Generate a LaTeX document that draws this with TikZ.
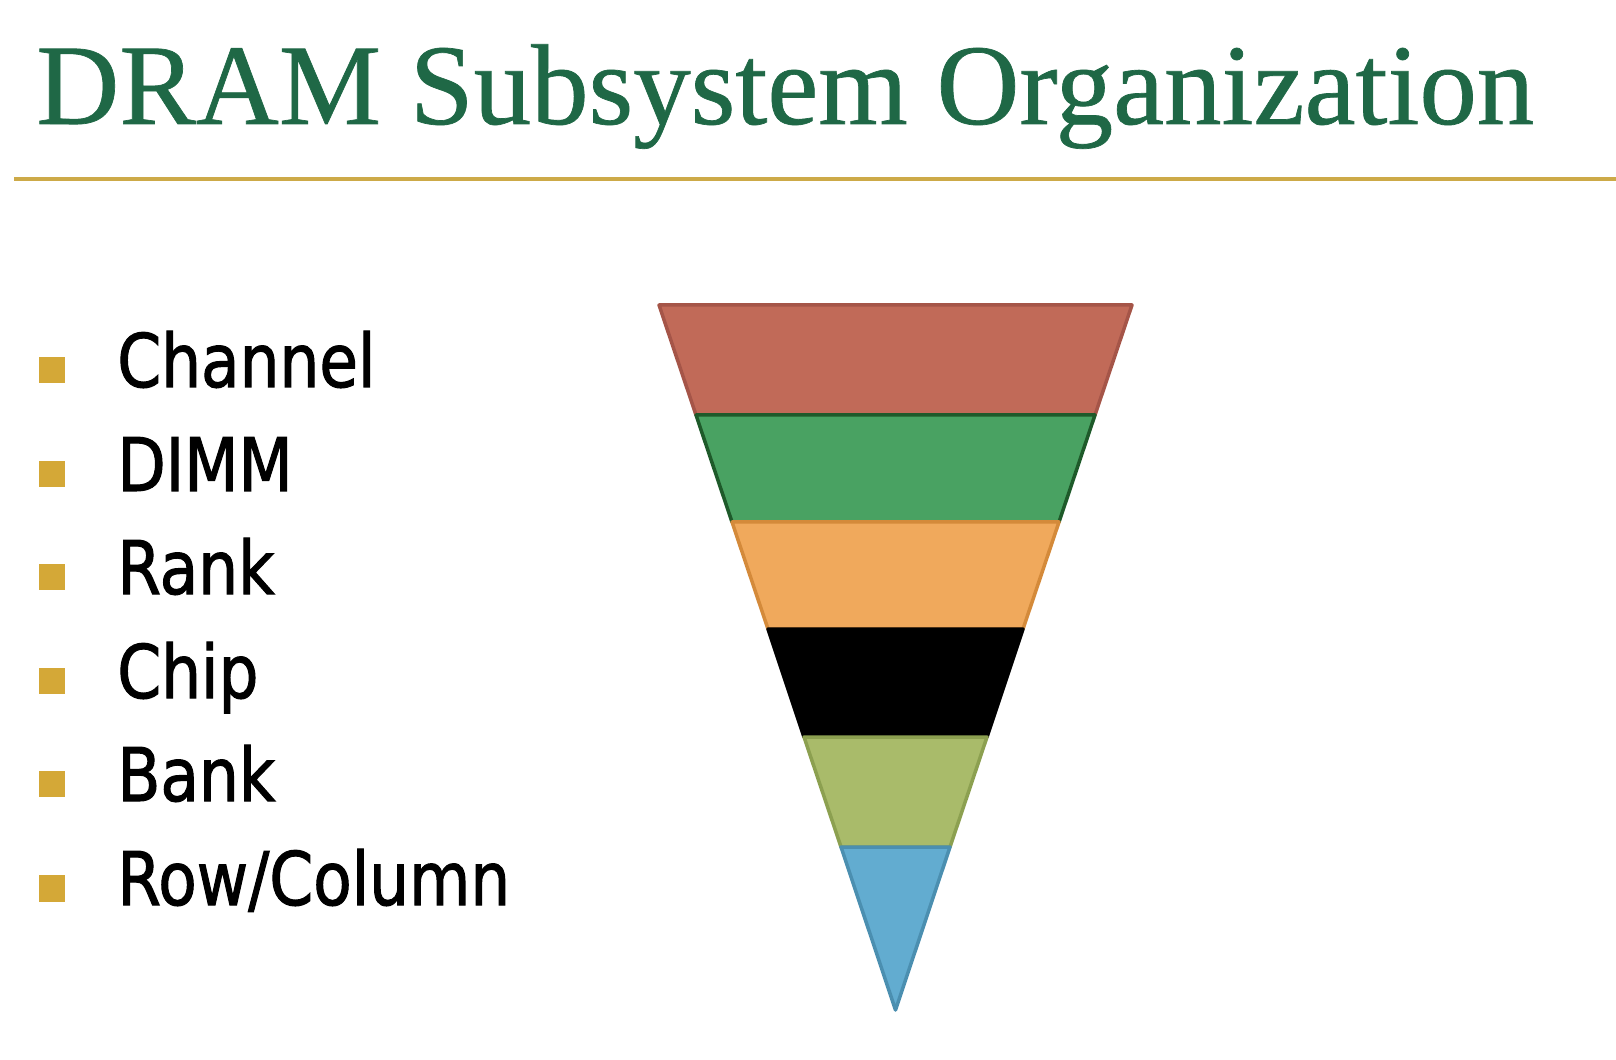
\documentclass[tikz,border=0pt]{standalone}
\usepackage{fontspec}
\setmainfont{Liberation Serif}
\newfontfamily\titlefont[FakeBold=0.6]{Liberation Serif}
\newfontfamily\listfont[FakeStretch=0.85,FakeBold=1.4]{DejaVu Sans}

\definecolor{titlegreen}{RGB}{31,104,70}
\definecolor{rulegold}{RGB}{205,170,72}
\definecolor{bulletgold}{RGB}{212,168,55}
\definecolor{bandred}{RGB}{193,106,88}
\definecolor{bandredline}{RGB}{165,85,72}
\definecolor{bandgreen}{RGB}{73,162,98}
\definecolor{bandgreenline}{RGB}{30,90,42}
\definecolor{bandorange}{RGB}{240,169,92}
\definecolor{bandorangeline}{RGB}{212,138,58}
\definecolor{bandolive}{RGB}{169,187,106}
\definecolor{bandoliveline}{RGB}{140,160,80}
\definecolor{bandblue}{RGB}{98,172,208}
\definecolor{bandblueline}{RGB}{75,143,176}

\begin{document}
\begin{tikzpicture}[x=0.02cm,y=-0.02cm]
  \tikzstyle{B}=[fill=bulletgold,minimum size=0.54cm,inner sep=0pt]
  \tikzstyle{L}=[anchor=base west,inner sep=0pt,font=\listfont\fontsize{42.1pt}{48pt}\selectfont]
  \tikzstyle{band}=[line width=0.07cm,line join=round]
  \useasboundingbox (0,0) rectangle (1616,1060);

  % title and rule
  \node[anchor=base west,inner sep=0pt,text=titlegreen,font=\titlefont\fontsize{65.4pt}{70pt}\selectfont] (title) at (36,124) {DRAM Subsystem Organization};
  \draw[line width=0.08cm,rulegold] (14,179) -- (1616,179);

  % bullet list
  \node[B] (b1) at (52,370) {};
  \node[B] (b2) at (52,474) {};
  \node[B] (b3) at (52,577) {};
  \node[B] (b4) at (52,681) {};
  \node[B] (b5) at (52,784) {};
  \node[B] (b6) at (52,888) {};
  \node[L] (channel) at (117,387) {Channel};
  \node[L] (dimm) at (117,491) {DIMM};
  \node[L] (rank) at (117,594) {Rank};
  \node[L] (chip) at (117,698) {Chip};
  \node[L] (bank) at (117,801) {Bank};
  \node[L] (rowcol) at (117,905) {Row/Column};

  % funnel
  \draw[band,fill=bandred,draw=bandredline] (659,305) -- (1132,305) -- (1095,415) -- (696,415) -- cycle;
  \draw[band,fill=bandgreen,draw=bandgreenline] (696,415) -- (1095,415) -- (1059,522) -- (732,522) -- cycle;
  \draw[band,fill=bandorange,draw=bandorangeline] (732,522) -- (1059,522) -- (1023,629) -- (768,629) -- cycle;
  \draw[band,fill=black,draw=black] (768,629) -- (1023,629) -- (987,737) -- (804,737) -- cycle;
  \draw[band,fill=bandolive,draw=bandoliveline] (804,737) -- (987,737) -- (950,847) -- (841,847) -- cycle;
  \draw[band,fill=bandblue,draw=bandblueline] (841,847) -- (950,847) -- (895.5,1010) -- cycle;
\end{tikzpicture}
\end{document}
